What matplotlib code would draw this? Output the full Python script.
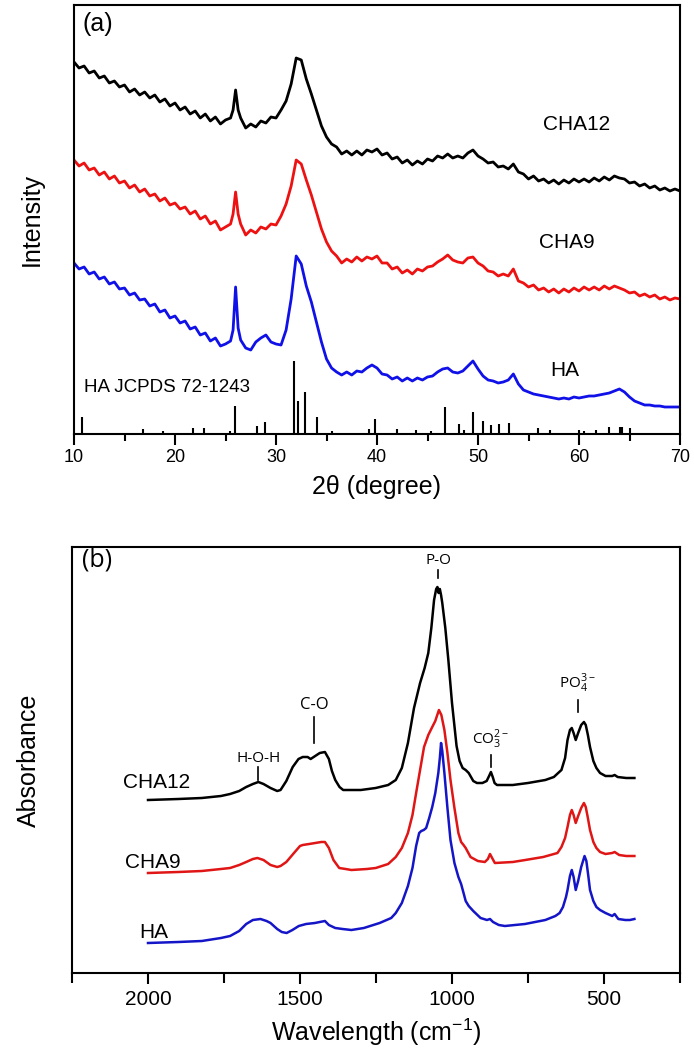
import matplotlib
matplotlib.use("Agg")
import matplotlib.pyplot as plt
from matplotlib.ticker import MultipleLocator

plt.rcParams['font.family'] = ['Liberation Sans', 'DejaVu Sans']
plt.rcParams['mathtext.fontset'] = 'custom'
plt.rcParams['mathtext.rm'] = 'Open Sans'

# ---------------- Panel (a): XRD ----------------
two_theta = [10.0, 10.5, 11.0, 11.5, 12.0, 12.5, 13.0, 13.5, 14.0, 14.5,
             15.0, 15.5, 16.0, 16.5, 17.0, 17.5, 18.0, 18.5, 19.0, 19.5,
             20.0, 20.5, 21.0, 21.5, 22.0, 22.5, 23.0, 23.5, 24.0, 24.5,
             25.0, 25.5, 25.75, 26.0, 26.25, 26.5, 27.0, 27.5, 28.0, 28.5,
             29.0, 29.5, 30.0, 30.5, 31.0, 31.5, 32.0, 32.5, 33.0, 33.5,
             34.0, 34.5, 35.0, 35.5, 36.0, 36.5, 37.0, 37.5, 38.0, 38.5,
             39.0, 39.5, 40.0, 40.5, 41.0, 41.5, 42.0, 42.5, 43.0, 43.5,
             44.0, 44.5, 45.0, 45.5, 46.0, 46.5, 47.0, 47.5, 48.0, 48.5,
             49.0, 49.5, 50.0, 50.5, 51.0, 51.5, 52.0, 52.5, 53.0, 53.5,
             54.0, 54.5, 55.0, 55.5, 56.0, 56.5, 57.0, 57.5, 58.0, 58.5,
             59.0, 59.5, 60.0, 60.5, 61.0, 61.5, 62.0, 62.5, 63.0, 63.5,
             64.0, 64.5, 65.0, 65.5, 66.0, 66.5, 67.0, 67.5, 68.0, 68.5,
             69.0, 69.5, 70.0]

xrd_cha12 = [372, 366, 368, 361, 363, 356, 358, 351, 353, 347,
             349, 342, 345, 339, 342, 336, 339, 332, 335, 328,
             331, 324, 327, 320, 323, 316, 320, 313, 317, 310,
             314, 316, 324, 344, 324, 316, 306, 310, 307, 313,
             311, 317, 316, 324, 333, 350, 376, 374, 355, 340,
             324, 308, 297, 290, 287, 280, 283, 279, 283, 279,
             284, 282, 285, 279, 281, 275, 277, 271, 274, 269,
             273, 270, 275, 273, 278, 276, 280, 276, 278, 276,
             281, 284, 278, 275, 271, 272, 267, 268, 265, 270,
             262, 260, 255, 258, 253, 255, 251, 254, 250, 254,
             251, 255, 252, 255, 252, 256, 253, 257, 254, 258,
             256, 255, 251, 252, 248, 250, 246, 248, 244, 246,
             243, 245, 243]

xrd_cha9 = [274, 268, 271, 264, 266, 259, 262, 255, 258, 251,
            253, 246, 249, 242, 245, 238, 240, 233, 236, 229,
            231, 225, 227, 220, 223, 215, 218, 210, 213, 204,
            207, 210, 220, 242, 220, 210, 199, 204, 201, 207,
            205, 210, 209, 218, 230, 248, 274, 270, 254, 239,
            222, 205, 192, 183, 178, 171, 175, 172, 177, 173,
            177, 175, 178, 171, 171, 165, 167, 161, 164, 160,
            165, 163, 167, 168, 172, 175, 179, 174, 172, 171,
            176, 177, 171, 168, 163, 162, 158, 160, 158, 165,
            153, 151, 147, 149, 144, 146, 142, 145, 141, 145,
            142, 146, 143, 147, 144, 147, 144, 148, 145, 148,
            146, 144, 141, 142, 138, 140, 137, 139, 135, 137,
            134, 136, 135]

xrd_ha = [171, 165, 167, 160, 162, 155, 157, 150, 152, 145,
          146, 139, 141, 134, 135, 128, 130, 122, 124, 116,
          118, 111, 113, 105, 107, 99, 101, 93, 96, 88,
          90, 93, 104, 147, 106, 94, 86, 84, 92, 96,
          99, 92, 90, 89, 104, 135, 178, 170, 148, 132,
          112, 92, 75, 66, 62, 59, 62, 59, 63, 62,
          66, 69, 66, 60, 59, 55, 57, 53, 56, 53,
          56, 54, 57, 58, 62, 65, 66, 62, 61, 63,
          68, 73, 65, 58, 54, 53, 51, 52, 54, 60,
          50, 44, 42, 40, 39, 38, 37, 36, 35, 36,
          35, 37, 36, 37, 38, 38, 39, 40, 41, 43,
          45, 42, 37, 33, 31, 29, 29, 28, 28, 27,
          27, 27, 27]

jcpds_pos = [10.8, 16.8, 18.8, 21.8, 22.9, 25.4, 25.9, 28.1, 28.9, 31.8,
             32.2, 32.9, 34.1, 35.5, 39.2, 39.8, 42.0, 43.9, 45.3, 46.7,
             48.1, 48.6, 49.5, 50.5, 51.3, 52.1, 53.1, 55.9, 57.1, 60.0,
             60.5, 61.7, 63.0, 64.1, 64.3, 65.0]
jcpds_int = [17, 5, 3, 6, 6, 3, 28, 8, 12, 73,
             33, 42, 17, 3, 5, 15, 5, 4, 3, 27,
             10, 4, 22, 13, 9, 10, 11, 6, 4, 4,
             3, 4, 7, 7, 7, 6]

# ---------------- Panel (b): FTIR ----------------
wn_cha12 = [2000, 1900, 1823, 1760, 1730, 1700, 1677, 1655, 1637, 1620, 1597, 1575, 1564, 1545,
            1524, 1505, 1491, 1475, 1465, 1450, 1435, 1418, 1405, 1395, 1384, 1370, 1358, 1300,
            1251, 1210, 1185, 1165, 1145, 1125, 1105, 1090, 1078, 1068, 1059, 1052, 1048, 1044,
            1040, 1036, 1032, 1022, 1012, 1000, 985, 975, 965, 955, 945, 930, 918, 900, 886, 878,
            872, 866, 860, 852, 800, 750, 693, 665, 640, 628, 620, 612, 606, 600, 593, 585, 575,
            566, 560, 553, 546, 535, 525, 513, 495, 473, 465, 455, 427, 400]
ab_cha12 = [173, 174, 175, 177, 179, 182, 186, 189, 191, 189, 185, 182, 183, 192,
            206, 214, 216, 216, 214, 217, 220, 221, 214, 202, 193, 186, 183, 183,
            185, 188, 193, 205, 230, 265, 290, 305, 320, 345, 373, 384, 386, 380,
            384, 378, 370, 345, 313, 270, 227, 212, 205, 203, 200, 192, 190, 190, 192, 197,
            201, 196, 190, 188, 188, 190, 193, 196, 203, 215, 233, 243, 245, 240, 233, 240, 248,
            251, 248, 238, 226, 212, 205, 200, 197, 197, 198, 196, 195, 195]

wn_cha9 = [2000, 1900, 1823, 1760, 1730, 1700, 1677, 1655, 1640, 1620, 1597, 1575, 1564, 1545,
           1517, 1500, 1491, 1470, 1450, 1430, 1418, 1405, 1390, 1371, 1350, 1331, 1280, 1251,
           1210, 1185, 1165, 1145, 1130, 1118, 1105, 1092, 1078, 1065, 1055, 1043, 1035, 1025,
           1015, 1005, 992, 979, 970, 962, 955, 939, 915, 892, 882, 875, 868, 859, 800, 759,
           700, 653, 640, 628, 620, 612, 606, 600, 593, 585, 575, 566, 560, 553, 546, 535,
           525, 513, 495, 473, 465, 450, 427, 400]
ab_cha9 = [100, 101, 102, 104, 105, 108, 111, 114, 115, 113, 108, 106, 107, 111,
           121, 127, 128, 129, 130, 131, 131, 125, 113, 105, 104, 103, 104, 105,
           109, 116, 125, 140, 158, 180, 203, 226, 238, 246, 252, 263, 258, 243,
           220, 193, 165, 140, 131, 128, 125, 116, 112, 111, 114, 119, 115, 110, 111, 113,
           116, 120, 126, 135, 146, 158, 163, 158, 150, 157, 165, 170, 166, 155, 143, 131,
           125, 121, 119, 120, 121, 118, 117, 117]

wn_ha = [2000, 1900, 1823, 1760, 1730, 1700, 1677, 1655, 1630, 1610, 1597, 1575, 1560, 1544,
         1525, 1504, 1480, 1451, 1435, 1418, 1405, 1384, 1360, 1331, 1290, 1238, 1200, 1185,
         1165, 1145, 1130, 1118, 1108, 1101, 1093, 1085, 1075, 1065, 1055, 1045, 1040, 1036,
         1032, 1025, 1015, 1005, 992, 979, 970, 962, 955, 945, 930, 906, 885, 875, 865, 846,
         826, 760, 693, 660, 646, 635, 625, 620, 612, 606, 600, 593, 585, 575, 564, 558,
         552, 546, 535, 525, 513, 495, 473, 465, 453, 430, 415, 400]
ab_ha = [30, 31, 32, 35, 37, 42, 49, 53, 54, 52, 50, 44, 41, 40,
         43, 47, 49, 50, 51, 52, 48, 45, 44, 43, 45, 50, 55, 60,
         70, 87, 105, 127, 140, 142, 143, 145, 155, 166, 180, 200, 215, 230,
         222, 200, 165, 133, 110, 96, 89, 80, 72, 67, 62, 55, 53, 54, 51, 48,
         47, 49, 53, 57, 60, 66, 76, 83, 97, 103, 96, 83, 92, 106, 117, 112,
         98, 83, 72, 66, 63, 60, 57, 59, 54, 53, 53, 54]

# band annotations: label, wavenumber, text height, line bottom, line top
band_labels = ["H-O-H", "C-O", "P-O", r"CO$_{\mathregular{3}}^{\mathregular{2-}}$",
               r"PO$_{\mathregular{4}}^{\mathregular{3-}}$"]
band_wn = [1637, 1453, 1045, 872, 586]
band_text_h = [215, 268, 413, 234, 290]
band_line = [(193, 206), (230, 256), (395, 403), (206, 218), (261, 273)]
band_size = [11, 12, 11, 11, 11]

fig = plt.figure(figsize=(6.94, 10.49), dpi=100)

# ---- panel a
ax1 = fig.add_axes([74/694, 1-434/1049, 606/694, 429/1049])
ax1.plot(two_theta, xrd_cha12, color='black', lw=2.0)
ax1.plot(two_theta, xrd_cha9, color='#ee1111', lw=2.0)
ax1.plot(two_theta, xrd_ha, color='#1010e8', lw=2.0)
ax1.vlines(jcpds_pos, 0, jcpds_int, color='black', lw=1.5)
ax1.set_xlim(10, 70)
ax1.set_ylim(0, 429)
ax1.set_yticks([])
ax1.xaxis.set_major_locator(MultipleLocator(10))
ax1.xaxis.set_minor_locator(MultipleLocator(5))
ax1.tick_params(axis='x', which='major', direction='out', length=8, width=1.5, labelsize=13, pad=3)
ax1.tick_params(axis='x', which='minor', direction='out', length=5, width=1.5)
for s in ax1.spines.values():
    s.set_linewidth(1.5)
ax1.set_xlabel("2θ (degree)", fontsize=18, labelpad=6)
ax1.set_ylabel("Intensity", fontsize=18, labelpad=22)
ax1.text(12.4, 410, "(a)", fontsize=18, ha='center', va='center')
ax1.text(59.8, 309, "CHA12", fontsize=15, ha='center', va='center')
ax1.text(58.8, 191, "CHA9", fontsize=15, ha='center', va='center')
ax1.text(58.6, 64, "HA", fontsize=15, ha='center', va='center')
ax1.text(11.0, 46, "HA JCPDS 72-1243", fontsize=13.5, ha='left', va='center')

# ---- panel b
ax2 = fig.add_axes([72/694, 1-973/1049, 608/694, 426/1049])
ax2.plot(wn_cha12, ab_cha12, color='black', lw=1.8)
ax2.plot(wn_cha9, ab_cha9, color='#e01515', lw=1.8)
ax2.plot(wn_ha, ab_ha, color='#1515c8', lw=1.8)
ax2.set_xlim(2250, 250)
ax2.set_ylim(0, 426)
ax2.set_yticks([])
ax2.xaxis.set_major_locator(MultipleLocator(500))
ax2.xaxis.set_minor_locator(MultipleLocator(250))
ax2.tick_params(axis='x', which='major', direction='out', length=8, width=1.5, labelsize=15, pad=4)
ax2.tick_params(axis='x', which='minor', direction='out', length=7, width=1.5)
for s in ax2.spines.values():
    s.set_linewidth(1.5)
ax2.set_xlabel(r"Wavelength (cm$^{\mathregular{-1}}$)", fontsize=18, labelpad=6)
ax2.set_ylabel("Absorbance", fontsize=18, labelpad=22)
ax2.text(2167, 413, "(b)", fontsize=18, ha='center', va='center', family=['Open Sans', 'DejaVu Sans'])
ax2.text(1973, 190, "CHA12", fontsize=15, ha='center', va='center')
ax2.text(1983, 110, "CHA9", fontsize=15, ha='center', va='center')
ax2.text(1980, 40, "HA", fontsize=15, ha='center', va='center')
for lab, w, th, (l0, l1), fs in zip(band_labels, band_wn, band_text_h, band_line, band_size):
    ax2.text(w, th, lab, fontsize=fs, ha='center', va='center', family=['Open Sans', 'DejaVu Sans'])
    ax2.plot([w, w], [l0, l1], color='black', lw=1.2)

fig.savefig("out.png", dpi=100)
